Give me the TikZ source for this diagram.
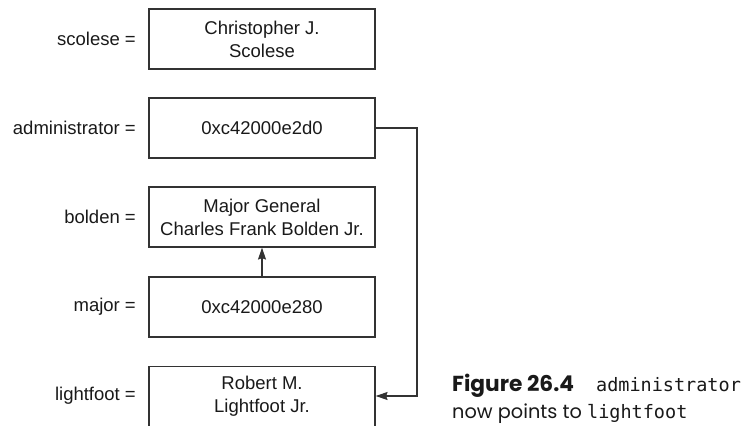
\documentclass[tikz,border=0pt]{standalone}
\usepackage{fontspec}
\setmainfont{Liberation Sans}
\setmonofont{DejaVu Sans Mono}
\newfontfamily\capfont{Poppins}
\usetikzlibrary{arrows.meta}
\begin{document}
\begin{tikzpicture}[x=1pt,y=-1pt,
  valbox/.style={draw=black!80, line width=1.2pt, minimum width=226pt, minimum height=60pt,
    inner sep=0pt, align=center, font=\fontsize{18.5}{23}\selectfont, text=black!90},
  varlabel/.style={anchor=east, inner sep=0pt, font=\fontsize{18.5}{23}\selectfont, text=black!90},
  link/.style={draw=black!80, line width=1.2pt, -{Stealth[length=12pt,width=8pt,inset=1.5pt]}}
]
\useasboundingbox (0,0) rectangle (745,426);
\node[valbox] (scolese) at (262,39) {Christopher J.\\Scolese};
\node[valbox] (admin) at (262,128) {0xc42000e2d0};
\node[valbox] (bolden) at (262,217) {Major General\\Charles Frank Bolden Jr.};
\node[valbox] (major) at (262,307) {0xc42000e280};
\node[valbox] (lightfoot) at (262,396.5) {Robert M.\\Lightfoot Jr.};
\node[varlabel] (lscolese) at (136,39) {scolese =};
\node[varlabel] (ladmin) at (136,128) {administrator =};
\node[varlabel] (lbolden) at (136,217) {bolden =};
\node[varlabel] (lmajor) at (136,307) {major =};
\node[varlabel] (llightfoot) at (136,396) {lightfoot =};
\coordinate (c1) at (417,128);
\coordinate (c2) at (417,396);
\draw[link] (major.north -| bolden.south) -- (bolden.south);
\draw[link] (admin.east) -- (c1) -- (c2) -- (c2 -| lightfoot.east);
\node[anchor=base west, inner sep=0pt, align=left, font=\fontsize{19.3}{26.5}\selectfont\capfont, text=black!90] (caption) at (452,418)
  {{\fontsize{21.7}{26.5}\selectfont\bfseries Figure 26.4}\hspace{22pt}{\fontsize{18.5}{26.5}\selectfont\ttfamily administrator}\\
   now points to {\fontsize{18.5}{26.5}\selectfont\ttfamily lightfoot}};
\end{tikzpicture}
\end{document}
